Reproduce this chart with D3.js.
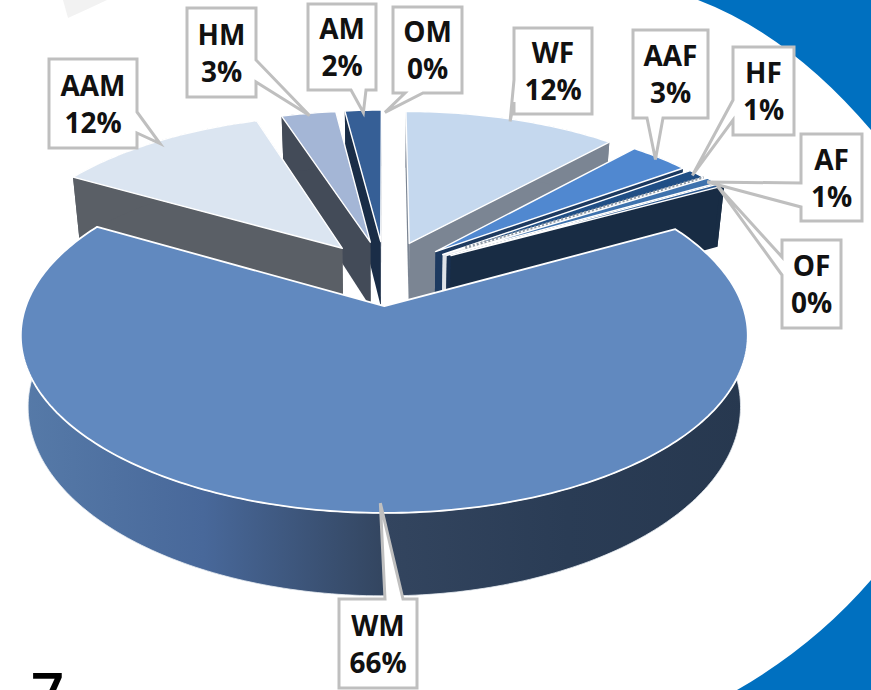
<!DOCTYPE html>
<html>
<head>
<meta charset="utf-8">
<script src="https://cdn.jsdelivr.net/npm/d3@7"></script>
<style>
  html, body { margin: 0; padding: 0; background: #fff; overflow: hidden; }
  svg { display: block; }
  text { font-family: "Open Sans", sans-serif; font-weight: 700; fill: #111; }
</style>
</head>
<body>
<script>
const width = 871;
const height = 690;

// clockwise from 12 o'clock
const categories = ["WF", "AAF", "HF", "AF", "OF", "WM", "AAM", "HM", "AM", "OM"];
const shares = [11.7, 3.3, 1, 0.7, 0.3, 66.3, 11.7, 3, 2, 0];
const topColors = ["#c5d8ee", "#5088d0", "#1f4e85", "#3e72ad", "#2c5a92", "#6189bf", "#dbe5f1", "#a4b6d6", "#365f96", "#6f8fc0"];
const wallColors = ["#7b8593", "#1d3a60", "#dfe3e8", "#19304f", "#182c44", "#2e4058", "#5a5f66", "#434b58", "#1a2d47", "#333"];
const drawOrder = ["OM", "AM", "HM", "AAM", "WF", "AAF", "HF", "AF", "OF", "WM"];

// label box [left, top, right, bottom], and where its leader leaves the box
const boxes = {
  AAM: { rect: [49, 59, 137, 148], side: "right", base: [112, 133] },
  HM: { rect: [187, 8, 256, 97], side: "right", base: [60, 82] },
  AM: { rect: [308, 4, 376, 90], side: "bottom", base: [351, 366] },
  OM: { rect: [393, 7, 462, 93], side: "bottom", base: [405, 423] },
  WF: { rect: [514, 28, 592, 114], side: "left", base: [80, 102] },
  AAF: { rect: [633, 30, 708, 118], side: "bottom", base: [647, 663] },
  HF: { rect: [733, 47, 794, 135], side: "left", base: [100, 120] },
  AF: { rect: [801, 134, 862, 221], side: "left", base: [183, 207] },
  OF: { rect: [782, 240, 841, 328], side: "left", base: [257, 275] },
  WM: { rect: [339, 599, 417, 688], side: "top", base: [385, 403] }
};

const explode = 0.2;
const explodeOverride = { HF: 0.205, AF: 0.212, OF: 0.222 };
const perspective = 0.16;
const depth = 67;
const bottomShrink = 0.98;

const scaleX = d3.scaleLinear().domain([-1, 1]).range([385 - 347, 385 + 347]);
const scaleY = d3.scaleLinear().domain([-1, 1]).range([272.8 - 161.7, 272.8 + 161.7]);

// slice angle + radius to tilted plane, top or bottom of the pie
function project(angle, r, s, bottom) {
  const mid = (s.startAngle + s.endAngle) / 2;
  const e = explodeOverride[s.data.cat] || explode;
  const px = r * Math.sin(angle) + e * Math.sin(mid);
  const py = -r * Math.cos(angle) - e * Math.cos(mid);
  const w = 1 / (1 - perspective * py);
  let x = scaleX(px * w);
  let y = scaleY(py * w);
  if (bottom) {
    x = 385 + (x - 385) * bottomShrink;
    y += depth * w;
  }
  return [x, y];
}

const pie = d3.pie().sort(null).value(d => d.share).startAngle(0).endAngle(2 * Math.PI);
const slices = pie(categories.map((c, i) => ({ cat: c, share: shares[i], top: topColors[i], wall: wallColors[i] })));
const byCat = new Map(slices.map(s => [s.data.cat, s]));

function arcPoints(s, bottom) {
  const n = Math.max(2, Math.ceil((s.endAngle - s.startAngle) * 60));
  return d3.range(n + 1).map(i => project(s.startAngle + (s.endAngle - s.startAngle) * i / n, 1, s, bottom));
}

const line = d3.line();
const closed = pts => line(pts) + "Z";

const svg = d3.select("body").append("svg").attr("width", width).attr("height", height);

// blue backdrop corners and the faint shape on top left
svg.append("path").attr("fill", "#f2f2f2").attr("d", "M63,0 L107,0 Q88,9 68,18 Z");
svg.append("path").attr("fill", "#0070c0").attr("d", "M698,0 Q790,35 871,130 L871,0 Z");
svg.append("path").attr("fill", "#0070c0").attr("d", "M871,580 Q815,645 737,690 L871,690 Z");

const defs = svg.append("defs");
const grad = defs.append("linearGradient").attr("id", "wmWall")
  .attr("gradientUnits", "userSpaceOnUse").attr("x1", 22).attr("x2", 749).attr("y1", 0).attr("y2", 0);
[[0, "#567aa8"], [0.25, "#48689a"], [0.5, "#33455f"], [0.75, "#2a3c55"], [1, "#27384f"]].forEach(d => {
  grad.append("stop").attr("offset", d[0]).attr("stop-color", d[1]);
});

const pieG = svg.append("g");
drawOrder.forEach(cat => {
  const s = byCat.get(cat);
  if (s.value === 0) return;
  const mid = (s.startAngle + s.endAngle) / 2;
  const wall = cat === "WM" ? "url(#wmWall)" : s.data.wall;
  const apexT = project(0, 0, s, false);
  const apexB = project(0, 0, s, true);
  const top = arcPoints(s, false);
  const bot = arcPoints(s, true);
  const g = pieG.append("g");

  // cut faces, the one facing the viewer last
  const startFace = [top[0], bot[0]];
  const endFace = [top[top.length - 1], bot[bot.length - 1]];
  const faces = mid > Math.PI ? [endFace, startFace] : [startFace, endFace];
  faces.forEach(e => {
    g.append("path").attr("fill", wall)
      .attr("d", closed([apexT, e[0], e[1], apexB]));
  });
  // outer rim
  g.append("path").attr("fill", wall).attr("stroke", cat === "WM" ? "#e8edf3" : "none").attr("stroke-width", 0.8)
    .attr("d", closed(top.concat(bot.slice().reverse())));
  // top face
  g.append("path").attr("fill", s.data.top).attr("stroke", "#fff").attr("stroke-width", cat === "WM" ? 1.8 : 1.4)
    .attr("stroke-linejoin", "round")
    .attr("d", closed([apexT].concat(top)));

  // the speckled seam along the end of HF
  if (cat === "HF") {
    g.append("path").attr("fill", "none").attr("stroke", "#8f9aa6").attr("stroke-width", 3)
      .attr("stroke-dasharray", "2 2")
      .attr("d", line([project(s.endAngle, 0.08, s, false), project(s.endAngle, 1, s, false)]));
  }
});

// labels with callout leaders
const boxG = svg.append("g");
categories.forEach((cat, i) => {
  const s = byCat.get(cat);
  const b = boxes[cat];
  const [l, t, r, bt] = b.rect;
  const mid = (s.startAngle + s.endAngle) / 2;
  const tipR = cat === "WM" ? 0.96 : 0.98;
  const tip = project(mid, tipR, s, false);
  let pts;
  if (b.side === "bottom") {
    pts = [[l, t], [r, t], [r, bt], [b.base[1], bt], tip, [b.base[0], bt], [l, bt]];
  } else if (b.side === "top") {
    pts = [[l, t], [b.base[0], t], tip, [b.base[1], t], [r, t], [r, bt], [l, bt]];
  } else if (b.side === "right") {
    pts = [[l, t], [r, t], [r, b.base[0]], tip, [r, b.base[1]], [r, bt], [l, bt]];
  } else {
    pts = [[l, t], [r, t], [r, bt], [l, bt], [l, b.base[1]], tip, [l, b.base[0]]];
  }
  boxG.append("path").attr("fill", "#fff").attr("stroke", "#bfbfbf").attr("stroke-width", 3)
    .attr("stroke-linejoin", "miter").attr("d", closed(pts));
  const tx = (l + r) / 2;
  const ty = (t + bt) / 2;
  boxG.append("text").attr("x", tx).attr("y", ty - 8).attr("text-anchor", "middle")
    .attr("font-size", 28).text(cat);
  boxG.append("text").attr("x", tx).attr("y", ty + 29).attr("text-anchor", "middle")
    .attr("font-size", 28).text(d3.format(".0f")(shares[i]) + "%");
});

// slide number cut off by the page edge
svg.append("text").attr("x", 31).attr("y", 714).attr("font-size", 58)
  .style("font-weight", 600).style("fill", "#000").text("7");
</script>
</body>
</html>
